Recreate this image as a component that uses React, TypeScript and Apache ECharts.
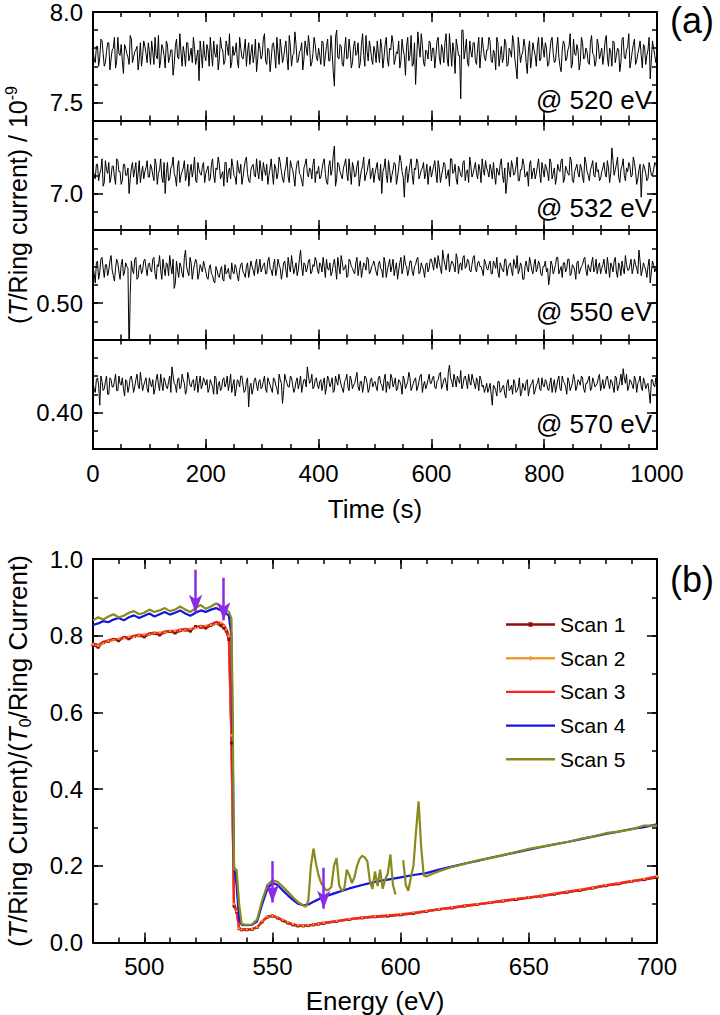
import React, { useEffect, useRef } from "react";
import * as echarts from "echarts";

const FONT = "'Liberation Sans', Arial, Helvetica, sans-serif";

// ---------- Panel (a): transmission vs time ----------
// samples every 2 s: "even" arrays at t = 0,4,8,...,1000 ; "mid" arrays at t = 2,6,...,998
const sampleGap = 2;
const timeMajorTicks = [0, 200, 400, 600, 800, 1000];

// @ 520 eV, units of 0.01 (x10^-9)
const trace520 = [
  779, 772, 781, 775, 784, 770, 778, 783, 774, 780, 769, 786, 776, 773, 782, 777, 771, 785, 775, 779, 768, 783, 776, 781, 772,
  778, 784, 771, 776, 787, 773, 780, 769, 782, 775, 779, 771, 785, 774, 778, 781, 770, 783, 776, 772, 780, 775, 762, 777, 784,
  773, 779, 786, 770, 777, 782, 774, 780, 771, 784, 776, 769, 781, 778, 773, 786, 775, 779, 770, 783, 777, 772, 785, 774, 780,
  776, 788, 771, 779, 774, 783, 769, 778, 785, 772, 780, 775, 787, 770, 777, 782, 773, 779, 768, 784, 776, 781, 772, 786, 775,
  780, 771, 783, 776, 785, 773, 778, 759, 790, 774, 781, 770, 786, 775, 779, 772, 784, 777, 769, 782, 776, 787, 773, 780, 771,
  778, 784, 772, 780, 775, 786, 770, 779, 783, 774, 777, 769, 785, 776, 781, 773, 787, 771, 760, 789, 775, 782, 770, 778, 784,
  773, 780, 776, 786, 771, 779, 783, 774, 788, 770, 778, 785, 776, 752, 790, 779, 772, 784, 775, 783, 771, 786, 777, 780, 773,
  779, 784, 772, 777, 786, 770, 781, 775, 783, 771, 778, 787, 774, 763, 780, 776, 785, 772, 779, 769, 783, 776, 781, 773, 786,
  775, 780, 771, 784, 777, 773, 786, 770, 779, 782, 774, 781, 769, 785, 776, 779, 772, 783, 775, 778, 771, 787, 776, 773, 782,
  777, 771, 784, 775, 780, 770, 783, 776, 779, 772, 786, 774, 781, 769, 778, 785, 773, 780, 776, 782, 771, 779, 763, 784, 776,
  778,
];
const trace520Mid = [
  774, 781, 770, 785, 777, 772, 783, 768, 779, 786, 773, 777, 782, 766, 780, 775, 787, 772, 778, 781, 774, 770, 784, 777, 783,
  771, 778, 786, 774, 769, 782, 776, 784, 772, 779, 765, 781, 775, 788, 770, 777, 783, 773, 780, 786, 771, 779, 784, 769, 776,
  782, 770, 777, 784, 775, 768, 786, 779, 773, 781, 788, 772, 776, 783, 769, 780, 774, 785, 778, 771, 782, 776, 767, 783, 774,
  785, 773, 780, 767, 782, 777, 786, 771, 779, 775, 784, 768, 781, 776, 789, 772, 778, 783, 774, 780, 787, 770, 777, 782, 773,
  776, 784, 770, 781, 773, 787, 767, 786, 775, 782, 771, 779, 774, 785, 769, 781, 776, 783, 772, 788, 770, 778, 784, 774, 781,
  772, 777, 785, 769, 782, 774, 780, 787, 771, 778, 784, 773, 779, 765, 786, 776, 770, 783, 775, 781, 788, 772, 779, 774, 783,
  780, 769, 784, 775, 782, 772, 788, 770, 779, 783, 766, 781, 776, 790, 774, 785, 770, 778, 783, 773, 780, 769, 786, 775, 779,
  786, 773, 779, 768, 783, 776, 772, 785, 770, 780, 775, 783, 769, 786, 772, 778, 781, 766, 784, 775, 779, 770, 786, 774, 780,
  783, 770, 778, 786, 772, 780, 775, 767, 784, 773, 779, 788, 771, 777, 782, 768, 786, 774, 780, 772, 783, 777, 770, 785, 774,
  780, 776, 787, 770, 778, 784, 772, 780, 767, 785, 775, 779, 788, 773, 782, 771, 777, 784, 769, 781, 776, 786, 774, 780, 772,
];
// @ 532 eV, units of 0.01
const trace532 = [
  714, 708, 716, 711, 719, 706, 713, 717, 709, 715, 705, 718, 712, 707, 716, 710, 700, 714, 709, 717, 711, 706, 715, 712, 718,
  709, 714, 707, 716, 711, 719, 706, 700, 717, 708, 715, 711, 704, 718, 710, 714, 707, 716, 712, 709, 720, 706, 713, 710, 717,
  711, 715, 708, 719, 706, 713, 716, 710, 704, 717, 712, 708, 715, 709, 718, 711, 705, 714, 720, 707, 713, 716, 709, 712, 718,
  707, 713, 716, 710, 719, 705, 714, 711, 717, 708, 712, 720, 706, 715, 709, 713, 718, 710, 704, 716, 711, 714, 708, 719, 712,
  715, 709, 717, 711, 705, 718, 713, 726, 708, 716, 710, 714, 719, 707, 712, 717, 709, 715, 704, 713, 720, 710, 716, 708, 714,
  711, 717, 707, 700, 714, 710, 718, 706, 713, 716, 709, 721, 712, 698, 715, 711, 719, 705, 713, 717, 710, 714, 708, 716, 712,
  709, 715, 711, 718, 706, 713, 716, 710, 704, 719, 712, 708, 715, 710, 717, 707, 713, 720, 709, 714, 711, 716, 706, 713, 718,
  712, 716, 708, 710, 714, 710, 719, 706, 700, 717, 709, 715, 711, 720, 707, 713, 716, 710, 704, 718, 712, 708, 715, 711, 717,
  709, 714, 707, 717, 711, 705, 716, 712, 719, 708, 713, 710, 718, 706, 714, 711, 716, 709, 720, 712, 707, 715, 710, 717, 713,
  708, 714, 711, 718, 706, 725, 710, 716, 709, 713, 719, 707, 712, 715, 710, 717, 705, 713, 698, 716, 711, 708, 714, 710, 717,
  713,
];
const trace532Mid = [
  710, 716, 707, 713, 704, 718, 711, 706, 715, 709, 719, 712, 705, 716, 710, 714, 708, 717, 713, 705, 718, 711, 708, 714, 709,
  716, 710, 719, 705, 713, 709, 717, 711, 707, 714, 720, 709, 715, 706, 712, 718, 710, 704, 716, 713, 707, 717, 711, 715, 706,
  713, 707, 716, 710, 714, 720, 708, 712, 717, 706, 714, 719, 710, 705, 713, 716, 709, 718, 711, 706, 715, 710, 719, 708, 713,
  717, 710, 705, 714, 711, 716, 708, 720, 712, 706, 715, 709, 718, 713, 704, 717, 711, 707, 714, 719, 709, 713, 716, 706, 711,
  708, 713, 719, 706, 715, 710, 721, 704, 717, 712, 708, 716, 711, 719, 705, 714, 710, 718, 709, 715, 707, 712, 719, 711, 706,
  714, 709, 716, 712, 719, 706, 713, 710, 717, 705, 714, 718, 709, 712, 706, 716, 710, 714, 719, 708, 713, 717, 711, 705, 715,
  712, 718, 706, 714, 710, 717, 708, 713, 719, 711, 716, 705, 713, 709, 718, 712, 706, 715, 711, 717, 708, 713, 719, 710, 714,
  709, 713, 717, 705, 712, 716, 710, 714, 706, 712, 718, 710, 715, 707, 713, 719, 709, 712, 716, 708, 714, 711, 719, 706, 713,
  716, 711, 719, 708, 714, 709, 713, 718, 706, 715, 711, 720, 707, 712, 716, 709, 714, 706, 717, 710, 713, 718, 709, 712, 707,
  712, 717, 709, 714, 711, 718, 713, 720, 706, 715, 710, 714, 717, 709, 720, 712, 708, 716, 711, 714, 707, 717, 710, 713, 716,
];
// @ 550 eV, units of 0.001
const trace550 = [
  520, 511, 523, 517, 525, 514, 521, 518, 526, 515, 519, 522, 513, 524, 517, 520, 470, 523, 516, 525, 514, 521, 518, 524, 515,
  522, 517, 525, 513, 520, 518, 524, 515, 521, 526, 516, 508, 523, 514, 520, 514, 529, 517, 525, 513, 521, 522, 516, 519, 523,
  517, 513, 521, 515, 511, 518, 514, 520, 512, 516, 519, 513, 517, 521, 515, 518, 522, 516, 520, 514, 523, 518, 521, 516, 524,
  519, 522, 516, 525, 518, 521, 515, 524, 519, 517, 523, 514, 520, 526, 516, 522, 518, 529, 515, 521, 519, 524, 517, 520, 523,
  516, 521, 525, 514, 519, 522, 517, 524, 513, 520, 526, 518, 521, 515, 523, 519, 516, 525, 520, 514, 522, 518, 524, 517, 521,
  520, 515, 523, 518, 525, 514, 521, 517, 524, 519, 513, 522, 516, 526, 520, 518, 523, 515, 521, 525, 517, 520, 514, 522, 519,
  524, 518, 522, 526, 519, 529, 521, 525, 517, 523, 520, 527, 516, 522, 525, 519, 524, 518, 521, 526, 517, 523, 520, 515, 522,
  518, 523, 516, 521, 525, 514, 520, 517, 524, 519, 522, 515, 521, 526, 518, 520, 513, 523, 517, 522, 516, 524, 519, 521, 515,
  520, 517, 510, 523, 516, 521, 525, 518, 514, 522, 519, 524, 516, 520, 513, 523, 518, 521, 525, 515, 519, 522, 517, 524, 520,
  516, 521, 518, 525, 514, 520, 523, 517, 522, 515, 519, 526, 518, 521, 516, 524, 519, 529, 515, 522, 518, 520, 511, 523, 517,
  521,
];
const trace550Mid = [
  516, 522, 513, 524, 519, 521, 515, 523, 518, 512, 524, 517, 521, 515, 522, 519, 505, 518, 524, 513, 520, 516, 523, 519, 521,
  518, 524, 516, 521, 526, 513, 519, 522, 515, 520, 524, 511, 518, 522, 516, 525, 520, 515, 522, 518, 524, 513, 521, 517, 520,
  514, 519, 516, 512, 520, 515, 518, 513, 521, 517, 514, 522, 516, 519, 512, 521, 517, 514, 522, 518, 520, 515, 524, 519, 517,
  521, 516, 523, 519, 515, 524, 518, 521, 513, 522, 518, 525, 517, 521, 519, 515, 524, 520, 522, 517, 523, 516, 521, 525, 518,
  522, 517, 520, 524, 518, 515, 521, 519, 525, 516, 522, 519, 514, 524, 520, 517, 522, 515, 523, 518, 521, 525, 516, 520, 523,
  517, 521, 519, 514, 522, 518, 524, 520, 515, 522, 518, 525, 519, 521, 515, 523, 517, 520, 524, 516, 522, 518, 521, 517, 524,
  521, 525, 519, 522, 516, 524, 518, 527, 520, 522, 517, 524, 521, 518, 526, 520, 523, 517, 525, 519, 522, 520, 518, 524, 519,
  521, 516, 523, 519, 517, 522, 518, 524, 515, 521, 518, 524, 519, 516, 522, 513, 520, 519, 525, 518, 521, 517, 523, 516, 520,
  523, 519, 515, 521, 518, 525, 516, 520, 522, 517, 524, 515, 521, 518, 522, 516, 520, 524, 518, 521, 517, 525, 519, 516, 522,
  519, 524, 516, 520, 522, 517, 525, 514, 520, 523, 516, 521, 518, 524, 519, 521, 516, 523, 518, 520, 514, 524, 517, 521, 519,
];
// @ 570 eV, units of 0.001
const trace570 = [
  416, 411, 419, 404, 417, 413, 420, 410, 418, 414, 421, 412, 416, 419, 409, 417, 414, 420, 411, 418, 415, 422, 412, 417, 413,
  419, 414, 410, 418, 415, 421, 412, 417, 413, 420, 425, 416, 411, 419, 414, 418, 410, 422, 415, 417, 412, 420, 416, 413, 419,
  415, 411, 418, 414, 420, 410, 417, 413, 419, 416, 412, 421, 415, 409, 418, 414, 420, 411, 417, 403, 416, 413, 419, 412, 418,
  414, 420, 411, 417, 413, 419, 415, 410, 418, 405, 421, 416, 414, 419, 411, 417, 413, 420, 415, 418, 425, 416, 421, 414, 419,
  413, 418, 416, 410, 420, 414, 419, 412, 417, 421, 415, 411, 418, 414, 420, 413, 416, 422, 412, 417, 415, 419, 411, 418, 414,
  417, 412, 420, 415, 418, 411, 416, 421, 414, 419, 413, 417, 410, 418, 415, 422, 412, 416, 419, 414, 420, 411, 417, 415, 421,
  416, 420, 413, 418, 422, 415, 419, 412, 426, 417, 421, 414, 418, 423, 415, 420, 413, 417, 421, 416, 419, 412, 418, 415, 413,
  411, 416, 404, 414, 409, 417, 412, 415, 408, 418, 413, 410, 416, 412, 419, 411, 414, 417, 409, 415, 418, 412, 416, 413, 419,
  414, 417, 412, 419, 415, 411, 418, 413, 420, 416, 410, 417, 414, 421, 412, 418, 415, 419, 411, 416, 420, 413, 417, 415, 419,
  412, 418, 415, 420, 413, 417, 411, 419, 414, 421, 424, 416, 412, 418, 415, 420, 411, 417, 414, 419, 413, 416, 405, 418, 414,
  416,
];
const trace570Mid = [
  413, 418, 415, 420, 412, 417, 410, 419, 414, 417, 412, 420, 415, 413, 418, 411, 419, 416, 414, 421, 413, 417, 415, 419, 411,
  416, 418, 413, 421, 412, 416, 419, 414, 417, 411, 420, 415, 418, 413, 421, 416, 412, 419, 414, 418, 416, 411, 420, 415, 417,
  418, 413, 416, 410, 419, 415, 412, 418, 414, 420, 416, 411, 418, 413, 417, 420, 415, 412, 419, 414, 410, 418, 415, 417, 413,
  417, 413, 419, 415, 411, 418, 413, 421, 416, 412, 418, 414, 420, 415, 413, 419, 416, 411, 418, 414, 420, 417, 413, 418, 415,
  417, 412, 419, 414, 418, 416, 411, 420, 415, 418, 413, 417, 421, 412, 418, 415, 419, 414, 417, 411, 420, 416, 413, 419, 416,
  414, 419, 416, 412, 421, 417, 413, 419, 416, 412, 418, 415, 420, 413, 417, 419, 414, 418, 412, 417, 421, 415, 413, 418, 416,
  419, 414, 417, 421, 413, 418, 416, 422, 419, 414, 418, 420, 416, 413, 419, 417, 421, 415, 418, 413, 417, 420, 414, 411, 416,
  413, 410, 415, 412, 417, 411, 414, 410, 416, 412, 415, 418, 411, 414, 409, 416, 412, 418, 413, 416, 410, 415, 419, 412, 415,
  418, 413, 416, 411, 418, 414, 420, 412, 417, 414, 419, 412, 416, 418, 414, 417, 420, 413, 416, 418, 412, 419, 414, 416, 421,
  415, 413, 419, 416, 418, 414, 420, 412, 417, 415, 419, 421, 414, 417, 413, 418, 416, 420, 412, 417, 415, 411, 418, 415, 419,
];
const traces = [trace520, trace532, trace550, trace570];
const tracesMid = [trace520Mid, trace532Mid, trace550Mid, trace570Mid];
const traceUnits = [0.01, 0.01, 0.001, 0.001];
const panelTags = ["@ 520 eV", "@ 532 eV", "@ 550 eV", "@ 570 eV"];
const panelMin = [7.4, 6.8, 0.48, 0.38];
const panelMax = [8.0, 7.4, 0.54, 0.44];
const panelMinorStep = [0.1, 0.1, 0.01, 0.01];
const panelMajorTicks = [[7.5, 8.0], [7.0], [0.5], [0.4]];
const panelDecimals = [1, 1, 2, 2];

// ---------- Panel (b): normalised transmission vs energy ----------
const energyGrid = [
  480, 482, 484, 486, 488, 490, 492, 494, 496, 498, 500, 502, 504, 506, 508, 510, 512, 514, 516, 518, 520, 522, 524, 526, 528, 530,
  531, 532, 533, 534, 535, 536, 537, 538, 540,
  542, 544, 546, 548, 550, 552, 554, 556, 558, 560, 562, 564, 566, 568, 570,
  575, 580, 585, 590, 595, 600, 605, 610, 615, 620, 625, 630, 635, 640, 645, 650, 655, 660, 665, 670, 675, 680, 685, 690, 695, 700,
];
const scan1 = [
  0.776, 0.770, 0.782, 0.785, 0.790, 0.787, 0.795, 0.792, 0.798, 0.800, 0.797, 0.804, 0.806, 0.802, 0.809, 0.811, 0.807, 0.813, 0.815, 0.812, 0.824, 0.822, 0.820, 0.827, 0.832, 0.826,
  0.820, 0.812, 0.79, 0.52, 0.095, 0.08, 0.036, 0.033, 0.033,
  0.034, 0.039, 0.054, 0.066, 0.069, 0.064, 0.057, 0.051, 0.046, 0.043, 0.043, 0.044, 0.046, 0.048, 0.050,
  0.055, 0.060, 0.064, 0.067, 0.069, 0.072, 0.076, 0.081, 0.086, 0.090, 0.095, 0.099, 0.104, 0.108, 0.112, 0.117, 0.121, 0.126, 0.131, 0.136, 0.142, 0.148, 0.153, 0.159, 0.164, 0.170,
];
const scan2 = [
  0.778, 0.774, 0.780, 0.786, 0.789, 0.792, 0.794, 0.797, 0.797, 0.801, 0.803, 0.803, 0.807, 0.808, 0.809, 0.812, 0.813, 0.814, 0.816, 0.818, 0.820, 0.824, 0.826, 0.828, 0.831, 0.834,
  0.826, 0.816, 0.80, 0.54, 0.10, 0.082, 0.037, 0.034, 0.034,
  0.035, 0.040, 0.056, 0.067, 0.070, 0.066, 0.059, 0.053, 0.048, 0.045, 0.044, 0.045, 0.047, 0.049, 0.051,
  0.056, 0.061, 0.065, 0.068, 0.071, 0.074, 0.078, 0.082, 0.087, 0.092, 0.096, 0.100, 0.105, 0.109, 0.114, 0.118, 0.122, 0.128, 0.133, 0.138, 0.143, 0.150, 0.155, 0.160, 0.166, 0.173,
];
const scan3 = [
  0.780, 0.776, 0.784, 0.788, 0.792, 0.790, 0.797, 0.795, 0.800, 0.803, 0.800, 0.806, 0.808, 0.805, 0.811, 0.813, 0.810, 0.816, 0.818, 0.815, 0.822, 0.826, 0.823, 0.830, 0.836, 0.832,
  0.828, 0.818, 0.80, 0.55, 0.10, 0.085, 0.038, 0.034, 0.034,
  0.035, 0.040, 0.055, 0.068, 0.070, 0.065, 0.058, 0.052, 0.047, 0.044, 0.044, 0.045, 0.047, 0.049, 0.051,
  0.056, 0.061, 0.065, 0.068, 0.070, 0.073, 0.077, 0.082, 0.087, 0.091, 0.096, 0.100, 0.104, 0.109, 0.113, 0.117, 0.122, 0.127, 0.132, 0.137, 0.143, 0.149, 0.154, 0.160, 0.165, 0.172,
];
const scan4 = [
  0.828, 0.832, 0.838, 0.835, 0.842, 0.846, 0.840, 0.848, 0.853, 0.846, 0.852, 0.858, 0.850, 0.856, 0.862, 0.855, 0.860, 0.866, 0.858, 0.852, 0.860, 0.866, 0.862, 0.868, 0.872, 0.866,
  0.862, 0.858, 0.852, 0.80, 0.20, 0.15, 0.06, 0.046, 0.045,
  0.046, 0.055, 0.10, 0.14, 0.155, 0.150, 0.136, 0.123, 0.111, 0.101, 0.097, 0.099, 0.106, 0.113, 0.119,
  0.130, 0.141, 0.150, 0.158, 0.164, 0.170, 0.176, 0.181, 0.190, 0.198, 0.206, 0.213, 0.221, 0.228, 0.235, 0.242, 0.249, 0.256, 0.262, 0.269, 0.276, 0.283, 0.289, 0.296, 0.301, 0.308,
];
const scan5Energy = [
  480, 482, 484, 486, 488, 490, 492, 494, 496, 498, 500, 502, 504, 506, 508, 510, 512, 514, 516, 518, 520, 522, 524, 526, 528, 530,
  532, 533, 534, 534.5, 535, 536, 537, 538, 540, 542, 544, 546, 548, 550, 552, 554, 556, 558, 560, 562, 563,
  564, 565, 566, 567, 568, 569, 570, 571, 572, 573, 574, 575, 576, 577, 578, 579, 580, 581, 582, 583, 584, 585, 586, 587, 588, 589,
  590, 591, 592, 593, 594, 595, 596, 597, 598, 599,
  601, 602, 603, 604, 605, 606, 607, 608, 609, 610, 612,
  615, 620, 625, 630, 635, 640, 645, 650, 655, 660, 665, 670, 675, 680, 685, 690, 695, 700,
];
const scan5 = [
  0.840, 0.848, 0.842, 0.850, 0.856, 0.848, 0.852, 0.860, 0.864, 0.856, 0.860, 0.868, 0.862, 0.866, 0.872, 0.864, 0.868, 0.876, 0.868, 0.862, 0.872, 0.880, 0.870, 0.876, 0.884, 0.874,
  0.866, 0.862, 0.845, 0.60, 0.19, 0.19, 0.10, 0.048, 0.046, 0.047, 0.060, 0.110, 0.150, 0.162, 0.158, 0.146, 0.132, 0.118, 0.105, 0.097, 0.093,
  0.110, 0.200, 0.245, 0.205, 0.175, 0.155, 0.145, 0.136, 0.138, 0.145, 0.200, 0.220, 0.150, 0.135, 0.140, 0.190, 0.175, 0.155, 0.170, 0.200, 0.218, 0.226, 0.222, 0.212, 0.160, 0.140,
  0.185, 0.147, 0.190, 0.140, 0.165, 0.180, 0.230, 0.150, 0.125, null,
  0.215, 0.150, 0.135, 0.170, 0.200, 0.290, 0.368, 0.250, 0.175, 0.172, 0.178,
  0.186, 0.197, 0.205, 0.214, 0.220, 0.228, 0.236, 0.244, 0.250, 0.256, 0.262, 0.270, 0.276, 0.285, 0.289, 0.295, 0.305, 0.305,
];
const scanNames = ["Scan 1", "Scan 2", "Scan 3", "Scan 4", "Scan 5"];
const scanColors = ["#8c0d0d", "#f29a38", "#ff2020", "#1414e0", "#8a8a1c"];
const energyMajorTicks = [500, 550, 600, 650, 700];
const yMajorTicksB = [0, 0.2, 0.4, 0.6, 0.8, 1.0];

// arrows: energy, shaft top, arrowhead centre
const arrowEnergy = [520, 531, 550, 570];
const arrowTop = [0.972, 0.951, 0.212, 0.195];
const arrowEnd = [0.860, 0.840, 0.104, 0.088];

// ---------- layout ----------
const PLOT_LEFT = 93;
const PLOT_WIDTH = 564;
const TOP_START = 11;
const SUB_HEIGHT = 109.5;
const B_TOP = 559;
const B_HEIGHT = 383.5;
const TAG_LIFT = [21, 22, 28, 25];

const BLACK = "#000";
const TICK_FONT = 24;

const LEGEND_LINE = "path://M0,0 L49,0 L49,2.4 L0,2.4 Z";
const LEGEND_LINE_SQUARE = "path://M0,1 L49,1 L49,3.4 L0,3.4 Z M22.5,0 L26.5,0 L26.5,4.4 L22.5,4.4 Z";
const LEGEND_LINE_DOT = "path://M0,0.8 L49,0.8 L49,3.2 L0,3.2 Z M23.3,0 L25.7,0 L25.7,4 L23.3,4 Z";
const legendIcons = [LEGEND_LINE_SQUARE, LEGEND_LINE_DOT, LEGEND_LINE, LEGEND_LINE, LEGEND_LINE];

function axisSet(
  dim: "x" | "y",
  gridIndex: number,
  min: number,
  max: number,
  minorStep: number,
  major: number[],
  showLabels: boolean,
  decimals: number,
  extra: any = {}
) {
  const positions = dim === "x" ? ["bottom", "top"] : ["left", "right"];
  const out: any[] = [];
  positions.forEach((pos, pi) => {
    out.push({
      type: "value",
      gridIndex,
      position: pos,
      min,
      max,
      interval: minorStep,
      axisLine: { show: true, onZero: false, lineStyle: { color: BLACK, width: 2 } },
      axisTick: { show: true, inside: true, length: 5, lineStyle: { color: BLACK, width: 1.5 } },
      axisLabel: { show: false },
      splitLine: { show: false },
      silent: true,
    });
    const labelsHere = showLabels && pi === 0;
    out.push({
      type: "value",
      gridIndex,
      position: pos,
      min,
      max,
      axisLine: { show: false, onZero: false },
      axisTick: { show: true, inside: true, length: 10, customValues: major, lineStyle: { color: BLACK, width: 1.5 } },
      axisLabel: {
        show: labelsHere,
        customValues: major,
        formatter: (v: number) => v.toFixed(decimals),
        fontSize: TICK_FONT,
        fontFamily: FONT,
        color: BLACK,
        margin: dim === "x" ? 12 : 10,
      },
      splitLine: { show: false },
      silent: true,
      ...(labelsHere ? extra : {}),
    });
  });
  return out;
}

function buildOption() {
  const grids: any[] = [];
  const xAxes: any[] = [];
  const yAxes: any[] = [];
  const series: any[] = [];
  const graphics: any[] = [];

  // panel (a)
  traces.forEach((tr, i) => {
    grids.push({ left: PLOT_LEFT, width: PLOT_WIDTH, top: TOP_START + i * SUB_HEIGHT, height: SUB_HEIGHT });
    const xi = xAxes.length;
    const yi = yAxes.length;
    const isLast = i === traces.length - 1;
    xAxes.push(
      ...axisSet("x", i, 0, 1000, 50, timeMajorTicks, isLast, 0,
        isLast
          ? {
              name: "Time (s)",
              nameLocation: "middle",
              nameGap: 47,
              nameTextStyle: { fontSize: 26, fontFamily: FONT, color: BLACK },
            }
          : {})
    );
    yAxes.push(...axisSet("y", i, panelMin[i], panelMax[i], panelMinorStep[i], panelMajorTicks[i], true, panelDecimals[i]));
    const mid = tracesMid[i];
    const pts: number[][] = [];
    tr.forEach((v, k) => {
      pts.push([2 * k * sampleGap, v * traceUnits[i]]);
      if (k < mid.length) pts.push([(2 * k + 1) * sampleGap, mid[k] * traceUnits[i]]);
    });
    series.push({
      type: "line",
      name: "trace" + i,
      xAxisIndex: xi,
      yAxisIndex: yi,
      data: pts,
      symbol: "none",
      showSymbol: false,
      clip: true,
      silent: true,
      lineStyle: { color: BLACK, width: 1 },
    });
    graphics.push({
      type: "text",
      x: PLOT_LEFT + PLOT_WIDTH - 5,
      y: TOP_START + (i + 1) * SUB_HEIGHT - TAG_LIFT[i],
      style: {
        text: panelTags[i],
        fontSize: 26,
        fontFamily: FONT,
        fill: BLACK,
        align: "right",
        verticalAlign: "middle",
      },
    });
  });

  // panel (b)
  const gb = grids.length;
  grids.push({ left: PLOT_LEFT, width: PLOT_WIDTH, top: B_TOP, height: B_HEIGHT });
  const xb = xAxes.length;
  const yb = yAxes.length;
  xAxes.push(
    ...axisSet("x", gb, 480, 700, 10, energyMajorTicks, true, 0, {
      name: "Energy (eV)",
      nameLocation: "middle",
      nameGap: 45,
      nameTextStyle: { fontSize: 26, fontFamily: FONT, color: BLACK },
    })
  );
  yAxes.push(...axisSet("y", gb, 0, 1, 0.1, yMajorTicksB, true, 1));

  const scanData = [scan1, scan2, scan3, scan4];
  scanData.forEach((vals, i) => {
    series.push({
      type: "line",
      name: scanNames[i],
      xAxisIndex: xb,
      yAxisIndex: yb,
      data: vals.map((v, k) => [energyGrid[k], v]),
      symbol: i === 0 ? "rect" : i === 1 ? "circle" : "none",
      symbolSize: i === 0 ? 3 : 2.5,
      showSymbol: i < 2,
      itemStyle: { color: scanColors[i] },
      lineStyle: { color: scanColors[i], width: 2.2 },
      clip: true,
      silent: true,
    });
  });
  series.push({
    type: "line",
    name: scanNames[4],
    xAxisIndex: xb,
    yAxisIndex: yb,
    data: scan5.map((v, k) => [scan5Energy[k], v]),
    symbol: "none",
    showSymbol: false,
    connectNulls: false,
    itemStyle: { color: scanColors[4] },
    lineStyle: { color: scanColors[4], width: 2.2 },
    clip: true,
    silent: true,
    markLine: {
      silent: true,
      symbol: ["none", "arrow"],
      symbolSize: [10, 18],
      label: { show: false },
      emphasis: { disabled: true },
      lineStyle: { color: "#8b2be8", width: 2.5, type: "solid" },
      data: arrowEnergy.map((e, i) => [
        { coord: [e, arrowTop[i]] },
        { coord: [e, arrowEnd[i]] },
      ]),
    },
  });

  // titles and panel letters
  graphics.push(
    {
      type: "text",
      x: 18,
      y: 205,
      rotation: Math.PI / 2,
      style: {
        text: "{n|(}{i|T}{n|/Ring current) / 10}{s|-9}",
        rich: {
          n: { fontSize: 25, fontFamily: FONT, lineHeight: 30, fill: BLACK },
          i: { fontSize: 25, fontFamily: FONT, fontStyle: "italic", lineHeight: 30, fill: BLACK },
          s: { fontSize: 16, fontFamily: FONT, lineHeight: 18, verticalAlign: "top", fill: BLACK },
        },
        align: "center",
        verticalAlign: "middle",
        fill: BLACK,
      },
    },
    {
      type: "text",
      x: 18,
      y: 751,
      rotation: Math.PI / 2,
      style: {
        text: "{n|(}{i|T}{n|/Ring Current)/(}{i|T}{b|0}{n|/Ring Current)}",
        rich: {
          n: { fontSize: 26, fontFamily: FONT, lineHeight: 30, fill: BLACK },
          i: { fontSize: 26, fontFamily: FONT, fontStyle: "italic", lineHeight: 30, fill: BLACK },
          b: { fontSize: 16, fontFamily: FONT, lineHeight: 18, verticalAlign: "bottom", fill: BLACK },
        },
        align: "center",
        verticalAlign: "middle",
        fill: BLACK,
      },
    },
    {
      type: "text",
      x: 670,
      y: 20,
      style: { text: "(a)", fontSize: 36, fontFamily: FONT, fill: BLACK, align: "left", verticalAlign: "middle" },
    },
    {
      type: "text",
      x: 670,
      y: 579,
      style: { text: "(b)", fontSize: 36, fontFamily: FONT, fill: BLACK, align: "left", verticalAlign: "middle" },
    }
  );

  return {
    animation: false,
    backgroundColor: "#ffffff",
    grid: grids,
    xAxis: xAxes,
    yAxis: yAxes,
    legend: {
      data: scanNames.map((n, i) => ({ name: n, icon: legendIcons[i] })),
      orient: "vertical",
      left: 506,
      top: 614,
      padding: 0,
      itemWidth: 49,
      itemHeight: 14,
      itemGap: 12.7,
      symbolKeepAspect: true,
      selectedMode: false,
      textStyle: { fontSize: 21, fontFamily: FONT, color: BLACK },
    },
    series,
    graphic: graphics,
  };
}

export default function App() {
  const ref = useRef<HTMLDivElement>(null);
  useEffect(() => {
    document.body.style.margin = "0";
    const chart = echarts.init(ref.current!, undefined, { renderer: "svg", width: 720, height: 1015 });
    chart.setOption(buildOption() as any);
    return () => chart.dispose();
  }, []);
  return (
    <div
      ref={ref}
      style={{ position: "absolute", left: 0, top: 0, width: 720, height: 1015, background: "#fff" }}
    />
  );
}
